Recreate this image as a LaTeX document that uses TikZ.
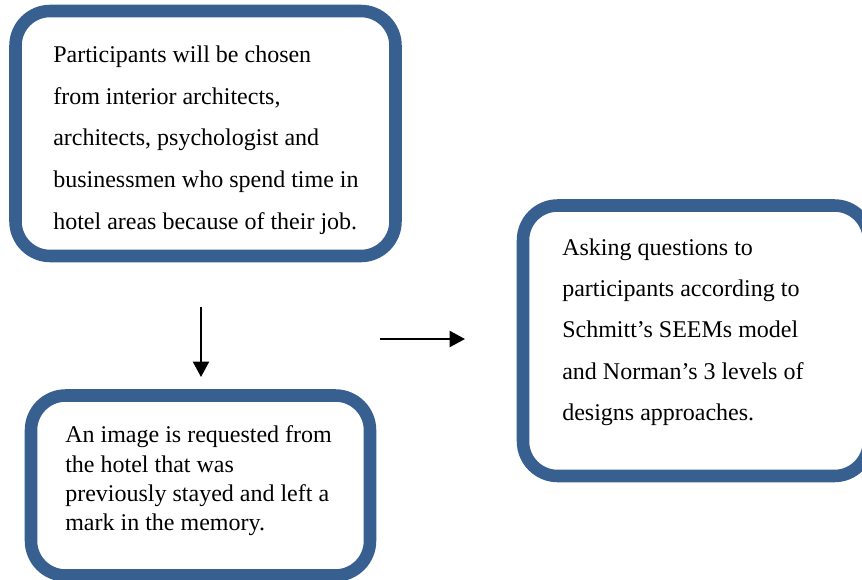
\documentclass[tikz,border=0pt]{standalone}
\usepackage{fontspec}
\setmainfont{Liberation Serif}
\usetikzlibrary{arrows.meta}
\definecolor{boxblue}{RGB}{55,96,145}
\tikzset{
  roundbox/.style={draw=boxblue, line width=9.4pt, rounded corners=26pt, fill=white, inner sep=0pt},
  bodytext/.style={anchor=north west, inner sep=0pt, align=left, text=black},
  flowarrow/.style={line width=1.5pt, -{Triangle[length=11.5pt, width=12pt]}}
}
\begin{document}
\begin{tikzpicture}[x=0.75pt, y=-0.75pt]
\useasboundingbox (0,0) rectangle (862,580);
\clip (0,0) rectangle (862,580);
% boxes
\node[roundbox, minimum width=380*0.75pt, minimum height=245*0.75pt] (b1) at (205.5,133.5) {};
\node[roundbox, minimum width=346*0.75pt, minimum height=270.5*0.75pt] (b2) at (696,340.75) {};
\node[roundbox, minimum width=339*0.75pt, minimum height=180*0.75pt] (b3) at (200.5,485.5) {};
% texts
\node[bodytext, font={\fontsize{18}{31.3}\selectfont}] (t1) at (53,45.5)
  {Participants will be chosen\\from interior architects,\\architects, psychologist and\\businessmen who spend time in\\hotel areas because of their job.};
\node[bodytext, font={\fontsize{18}{30.9}\selectfont}] (t2) at (562,238.6)
  {Asking questions to\\participants according to\\Schmitt’s SEEMs model\\and Norman’s 3 levels of\\designs approaches.};
\node[bodytext, font={\fontsize{18}{22}\selectfont}] (t3) at (65,425.6)
  {An image is requested from\\the hotel that was\\previously stayed and left a\\mark in the memory.};
% arrows
\coordinate (a1s) at (201,307);
\coordinate (a1e) at (201,377);
\coordinate (a2s) at (380,339);
\coordinate (a2e) at (465,339);
\draw[flowarrow] (a1s) -- (a1e);
\draw[flowarrow] (a2s) -- (a2e);
\end{tikzpicture}
\end{document}
